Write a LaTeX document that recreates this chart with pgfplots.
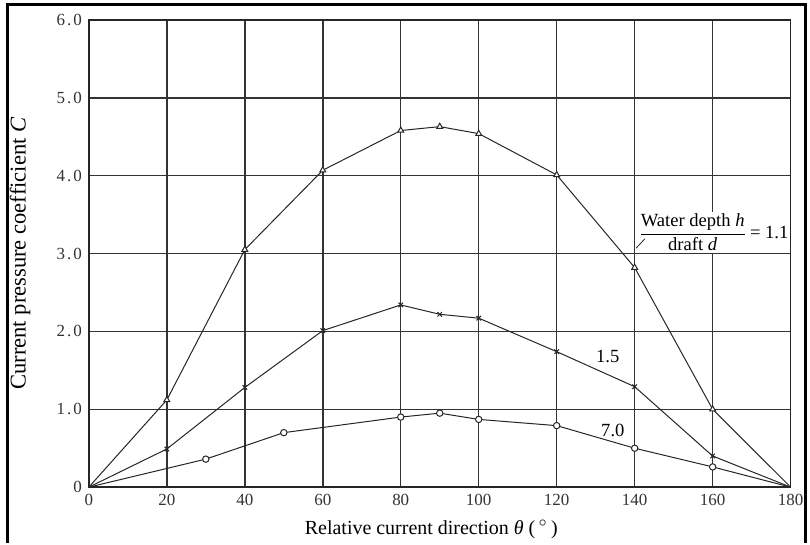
\documentclass[border=0pt]{standalone}
\usepackage{amsmath}
\usepackage{fontspec}
\setmainfont{Liberation Serif}
\usepackage{pgfplots}
\pgfplotsset{compat=1.18}

\begin{document}
\begin{tikzpicture}
\begin{axis}[
  name=ax, at={(0,0)}, anchor=south west,
  scale only axis, width=351.5pt, height=234pt,
  xmin=0, xmax=180, ymin=0, ymax=6,
  xtick={0,20,...,180},
  ytick={0,1,2,3,4,5,6},
  yticklabels={0,1\kern1pt.\kern1pt0,2\kern1pt.\kern1pt0,3\kern1pt.\kern1pt0,4\kern1pt.\kern1pt0,5\kern1pt.\kern1pt0,6\kern1pt.\kern1pt0},
  grid=major,
  grid style={black!80, line width=0.75pt},
  axis line style={black!85, line width=0.75pt},
  major tick length=0pt,
  tick label style={font=\fontsize{8.5}{10}\selectfont, text=black!80},
  /pgf/number format/assume math mode=true,
  xlabel={Relative current direction \textit{θ} (\,$^\circ$\,)},
  ylabel={Current pressure coefficient \textit{C}},
  xlabel style={font=\fontsize{10}{12}\selectfont, at={(rel axis cs:0.488,-0.09)}, anchor=center},
  ylabel style={font=\fontsize{11.3}{13}\selectfont, at={(rel axis cs:-0.098,0.5)}, anchor=center},
  clip=false,
]
% h/d = 1.1
\addplot[black!85, line width=0.5pt, mark=triangle*, mark size=1.7pt,
  mark options={fill=white, solid}, mark indices={2,3,4,5,6,7,8,9,10}]
  coordinates {(0,0) (20,1.12) (40,3.05) (60,4.07) (80,4.58) (90,4.63)
               (100,4.54) (120,4.01) (140,2.82) (160,1.0) (180,0)};
% h/d = 1.5
\addplot[black!85, line width=0.5pt, mark=x, mark size=1.6pt,
  mark options={solid}, mark indices={2,3,4,5,6,7,8,9,10}]
  coordinates {(0,0) (20,0.49) (40,1.28) (60,2.01) (80,2.34) (90,2.22)
               (100,2.17) (120,1.74) (140,1.29) (160,0.40) (180,0)};
% h/d = 7.0
\addplot[black!85, line width=0.5pt, mark=*, mark size=1.6pt,
  mark options={fill=white, solid}, mark indices={2,3,4,5,6,7,8,9}]
  coordinates {(0,0) (30,0.36) (50,0.70) (80,0.90) (90,0.95)
               (100,0.87) (120,0.79) (140,0.50) (160,0.26) (180,0)};

\node[font=\fontsize{9.3}{10}\selectfont] at (axis cs:133.1,1.68) {1.5};
\node[font=\fontsize{9.3}{10}\selectfont] at (axis cs:134.4,0.73) {7.0};
\node[font=\fontsize{9.3}{10}\selectfont, fill=white, inner sep=1pt]
  at (axis cs:160.2,3.27)
  {$\displaystyle\frac{\text{Water depth \textit{h}}}{\text{draft \textit{d}}}$\,= 1.1};
\draw[black!85, line width=0.4pt] (axis cs:142.6,3.19) -- (axis cs:140.4,3.07);
\end{axis}
% outer frame (open at the bottom, as in the scan)
\draw[line width=1.5pt]
  ([shift={(-40.5pt,-28pt)}]ax.south west) -- ([shift={(-40.5pt,241.5pt)}]ax.south west)
  -- ([shift={(359pt,241.5pt)}]ax.south west) -- ([shift={(359pt,-28pt)}]ax.south west);
\path ([shift={(-44.5pt,-28pt)}]ax.south west) rectangle ([shift={(360.5pt,244pt)}]ax.south west);
\end{tikzpicture}
\end{document}
